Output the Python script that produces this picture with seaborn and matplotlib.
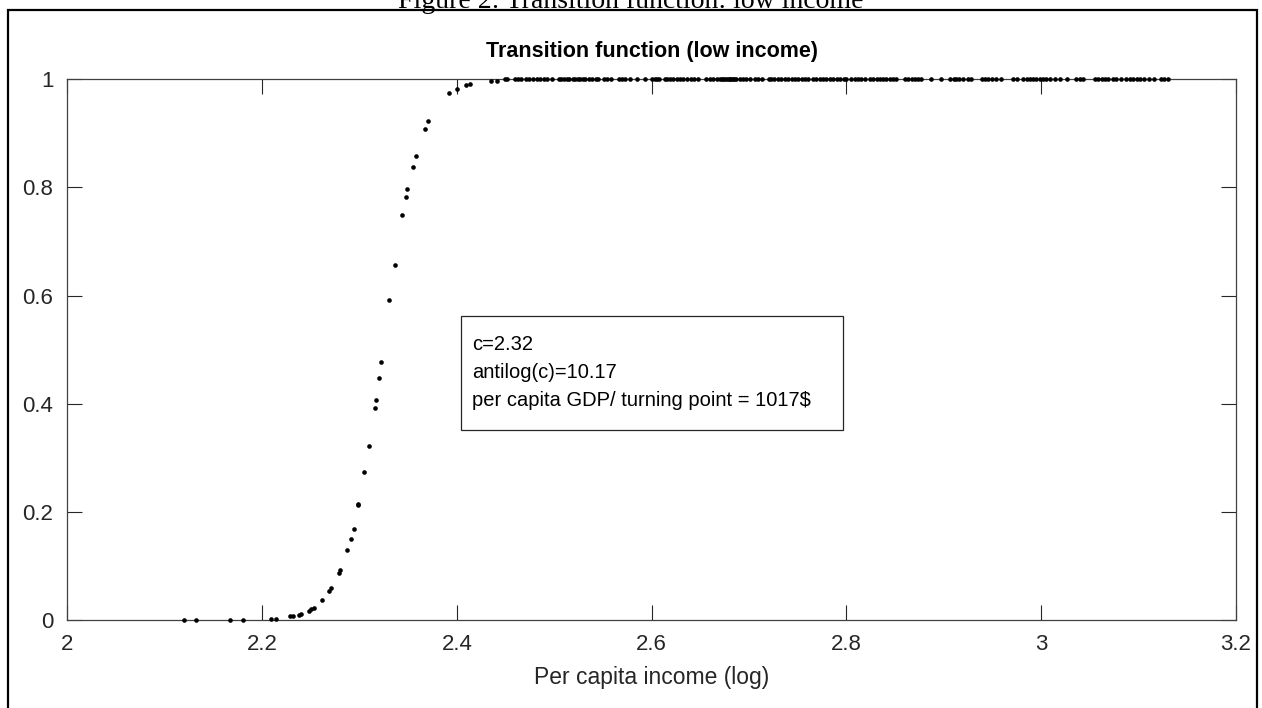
import matplotlib
matplotlib.use("Agg")
import matplotlib.pyplot as plt
from matplotlib import font_manager
from matplotlib.patches import Rectangle
import seaborn as sns
import pandas as pd

# ---- data ----
curve_x = [2.120, 2.132, 2.167, 2.180, 2.209, 2.214, 2.229, 2.232, 2.238, 2.240,
           2.248, 2.250, 2.253, 2.262, 2.269, 2.271, 2.279, 2.280, 2.287, 2.291,
           2.294, 2.299, 2.299, 2.305, 2.310, 2.3155, 2.317, 2.320, 2.322, 2.3305,
           2.336, 2.344, 2.348, 2.349, 2.3545, 2.3576, 2.367, 2.3706, 2.392, 2.400,
           2.409, 2.414, 2.435, 2.441]
curve_y = [0.000, 0.000, 0.000, 0.000, 0.002, 0.002, 0.007, 0.008, 0.010, 0.011,
           0.017, 0.020, 0.023, 0.037, 0.054, 0.060, 0.086, 0.092, 0.129, 0.149,
           0.168, 0.213, 0.215, 0.274, 0.321, 0.393, 0.406, 0.448, 0.478, 0.591,
           0.656, 0.749, 0.782, 0.797, 0.838, 0.858, 0.908, 0.923, 0.974, 0.982,
           0.989, 0.991, 0.997, 0.997]
plateau_x = [2.449, 2.452, 2.460, 2.463, 2.466, 2.471, 2.474, 2.478, 2.482, 2.485,
             2.489, 2.493, 2.498, 2.505, 2.507, 2.510, 2.513, 2.515, 2.519, 2.521,
             2.524, 2.526, 2.530, 2.532, 2.536, 2.539, 2.543, 2.545, 2.551, 2.554,
             2.558, 2.566, 2.570, 2.573, 2.578, 2.585, 2.593, 2.600, 2.603, 2.605,
             2.608, 2.614, 2.616, 2.619, 2.622, 2.626, 2.629, 2.632, 2.636, 2.640,
             2.644, 2.648, 2.656, 2.660, 2.663, 2.667, 2.670, 2.672, 2.673, 2.675,
             2.677, 2.679, 2.680, 2.682, 2.684, 2.685, 2.687, 2.691, 2.694, 2.697,
             2.701, 2.706, 2.709, 2.713, 2.720, 2.723, 2.726, 2.730, 2.733, 2.737,
             2.740, 2.744, 2.747, 2.750, 2.754, 2.757, 2.761, 2.766, 2.769, 2.773,
             2.776, 2.779, 2.783, 2.786, 2.790, 2.793, 2.797, 2.800, 2.805, 2.809,
             2.812, 2.815, 2.819, 2.824, 2.827, 2.831, 2.834, 2.838, 2.841, 2.845,
             2.848, 2.851, 2.860, 2.863, 2.867, 2.870, 2.874, 2.877, 2.887, 2.897,
             2.906, 2.910, 2.913, 2.916, 2.920, 2.925, 2.928, 2.939, 2.942, 2.945,
             2.949, 2.954, 2.959, 2.971, 2.975, 2.981, 2.985, 2.988, 2.992, 2.995,
             2.999, 3.002, 3.005, 3.009, 3.014, 3.019, 3.026, 3.036, 3.040, 3.043,
             3.055, 3.058, 3.062, 3.065, 3.069, 3.074, 3.077, 3.082, 3.087, 3.091,
             3.094, 3.098, 3.101, 3.106, 3.111, 3.116, 3.123, 3.126, 3.130]
plateau_y = [1.0] * len(plateau_x)

x_ticks = [2.0, 2.2, 2.4, 2.6, 2.8, 3.0, 3.2]
x_tick_labels = ["2", "2.2", "2.4", "2.6", "2.8", "3", "3.2"]
y_ticks = [0.0, 0.2, 0.4, 0.6, 0.8, 1.0]
y_tick_labels = ["0", "0.2", "0.4", "0.6", "0.8", "1"]

caption = "Figure 2: Transition function: low income"
title = "Transition function (low income)"
xlabel = "Per capita income (log)"
box_lines = ["c=2.32", "antilog(c)=10.17", "per capita GDP/ turning point = 1017$"]

# ---- style ----
sns.set_theme(style="white")
names = {f.name for f in font_manager.fontManager.ttflist}
sans = "Liberation Sans Narrow" if "Liberation Sans Narrow" in names else "Liberation Sans"
plt.rcParams["font.family"] = [sans, "DejaVu Sans"]

df = pd.DataFrame({"x": curve_x + plateau_x, "y": curve_y + plateau_y})

fig = plt.figure(figsize=(12.62, 7.08), dpi=100)
ax = fig.add_axes([0.0533, 0.1243, 0.9261, 0.7637])

sns.scatterplot(data=df, x="x", y="y", ax=ax, color="black", s=11,
                linewidth=0, marker="o", legend=False, zorder=3, clip_on=False)

ax.set_xlim(2.0, 3.2)
ax.set_ylim(0.0, 1.0)
ax.set_xticks(x_ticks)
ax.set_xticklabels(x_tick_labels)
ax.set_yticks(y_ticks)
ax.set_yticklabels(y_tick_labels)
ax.tick_params(direction="in", length=10.5, width=0.8, color="#262626",
               labelsize=16, labelcolor="#262626", top=True, right=True,
               bottom=True, left=True, pad=10)
for sp in ax.spines.values():
    sp.set_visible(True)
    sp.set_color("#404040")
    sp.set_linewidth(0.9)

ax.set_xlabel(xlabel, fontsize=16.5, color="#262626", labelpad=8)
ax.set_ylabel("")
ax.set_title(title, fontsize=15.5, fontweight="bold", color="black", pad=16)

# annotation box
bx0, by0, bx1, by1 = 0.3366, 0.3514, 0.6635, 0.5628
ax.add_patch(Rectangle((bx0, by0), bx1 - bx0, by1 - by0, transform=ax.transAxes,
                       facecolor="white", edgecolor="#262626", linewidth=0.9, zorder=4))
ax.text(bx0 + 0.0095, (by0 + by1) / 2, "\n".join(box_lines), transform=ax.transAxes,
        fontsize=14.5, color="black", va="center", ha="left", linespacing=1.6, zorder=5)

# outer frame and cut-off caption (cropped at the top as in the reference)
fig.patches.append(Rectangle((8 / 1262, -0.02), (1257 - 8) / 1262, 1 - 10 / 708 + 0.02,
                             transform=fig.transFigure, fill=False,
                             edgecolor="black", linewidth=1.6))
fig.text(0.5, 1 - 8 / 708, caption, ha="center", va="baseline",
         fontsize=20, family=["Liberation Serif", "DejaVu Serif"], color="black")

fig.savefig("out.png", dpi=100)
